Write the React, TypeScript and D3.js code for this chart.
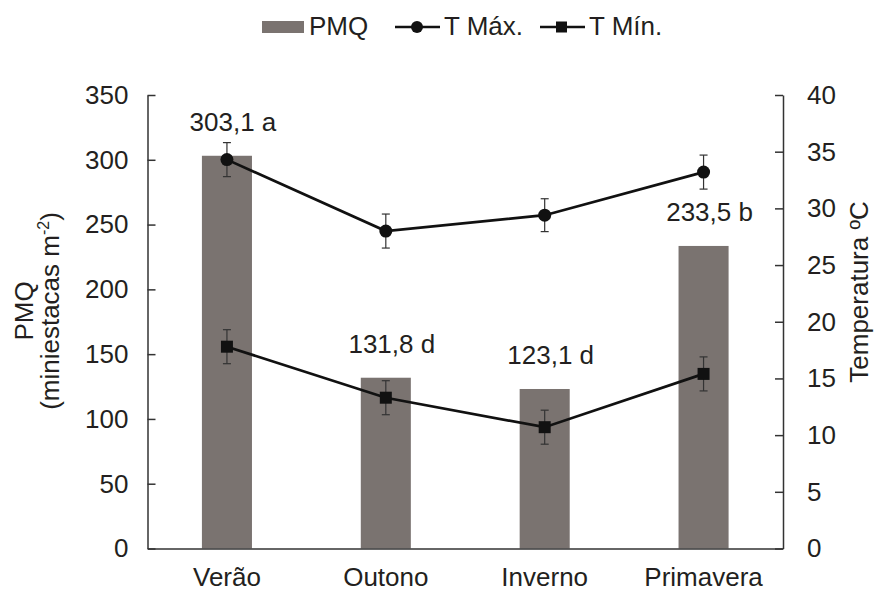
import React, { useRef, useEffect } from 'react';
import * as d3 from 'd3';

// chart data
const categories = ['Verão', 'Outono', 'Inverno', 'Primavera'];
const pmq = [303.1, 131.8, 123.1, 233.5];
const pmqLabels = ['303,1 a', '131,8 d', '123,1 d', '233,5 b'];
const tMax = [34.3, 28.0, 29.4, 33.2];
const tMaxErr = [1.5, 1.5, 1.45, 1.5];
const tMin = [17.8, 13.3, 10.7, 15.4];
const tMinErr = [1.5, 1.5, 1.5, 1.5];
const leftTicks = [0, 50, 100, 150, 200, 250, 300, 350];
const rightTicks = [0, 5, 10, 15, 20, 25, 30, 35, 40];

const FONT = '"Liberation Sans", Arial, sans-serif';
const FS = 26;
const TEXT = '#231f20';
const AXIS = '#333';
const BAR = '#7a7370';

function App() {
    const svgRef = useRef<SVGSVGElement>(null);

    useEffect(() => {
        const w = 877;
        const h = 592;
        const left = 147.5;
        const right = 783;
        const top = 95;
        const bottom = 548.5;

        const svg = d3.select(svgRef.current)
            .attr('width', w)
            .attr('height', h)
            .style('font-family', FONT);
        svg.selectAll('*').remove();

        // scales
        const x = d3.scaleBand<string>()
            .domain(categories)
            .range([left, right])
            .padding(0);
        const cx = (c: string) => (x(c) as number) + x.bandwidth() / 2;
        const barW = x.bandwidth() * 0.315;

        const yL = d3.scaleLinear().domain([0, 350]).range([bottom, top]);
        const yR = d3.scaleLinear().domain([0, 40]).range([bottom, top]);

        // bars
        svg.append('g')
            .selectAll('rect')
            .data(pmq)
            .join('rect')
            .attr('x', (d, i) => cx(categories[i]) - barW / 2)
            .attr('y', d => yL(d))
            .attr('width', barW)
            .attr('height', d => bottom - yL(d))
            .attr('fill', BAR);

        // bar labels
        svg.append('g')
            .selectAll('text')
            .data(pmq)
            .join('text')
            .attr('x', (d, i) => cx(categories[i]) + 6)
            .attr('y', d => yL(d) - 25)
            .attr('text-anchor', 'middle')
            .attr('font-size', FS)
            .attr('fill', TEXT)
            .text((d, i) => pmqLabels[i]);

        // axes
        const axisL = d3.axisLeft(yL)
            .tickValues(leftTicks)
            .tickSizeInner(-8)
            .tickSizeOuter(0)
            .tickPadding(19);
        const gL = svg.append('g')
            .attr('transform', `translate(${left}, 0)`)
            .call(axisL);

        const axisR = d3.axisRight(yR)
            .tickValues(rightTicks)
            .tickSizeInner(-8)
            .tickSizeOuter(0)
            .tickPadding(24);
        const gR = svg.append('g')
            .attr('transform', `translate(${right}, 0)`)
            .call(axisR);

        const axisB = d3.axisBottom(x)
            .tickSize(0)
            .tickPadding(19);
        const gB = svg.append('g')
            .attr('transform', `translate(0, ${bottom})`)
            .call(axisB);

        [gL, gR, gB].forEach(g => {
            g.attr('font-family', FONT).attr('font-size', FS);
            g.select('.domain').attr('stroke', AXIS).attr('stroke-width', 1.5);
            g.selectAll('.tick line').attr('stroke', AXIS).attr('stroke-width', 1.5);
            g.selectAll('.tick text').attr('fill', TEXT);
        });
        gB.selectAll('.tick text').attr('dy', '0.71em');

        // lines with error bars
        const series = [
            { vals: tMax, err: tMaxErr, shape: 'circle' },
            { vals: tMin, err: tMinErr, shape: 'square' },
        ];

        const line = d3.line<number>()
            .x((d, i) => cx(categories[i]))
            .y(d => yR(d));

        series.forEach(s => {
            const g = svg.append('g');
            g.append('path')
                .attr('d', line(s.vals))
                .attr('fill', 'none')
                .attr('stroke', '#111')
                .attr('stroke-width', 2.7);

            s.vals.forEach((v, i) => {
                const px = cx(categories[i]);
                const y1 = yR(v + s.err[i]);
                const y2 = yR(v - s.err[i]);
                g.append('line').attr('x1', px).attr('x2', px).attr('y1', y1).attr('y2', y2)
                    .attr('stroke', AXIS).attr('stroke-width', 1.2);
                [y1, y2].forEach(yy => {
                    g.append('line').attr('x1', px - 4).attr('x2', px + 4).attr('y1', yy).attr('y2', yy)
                        .attr('stroke', AXIS).attr('stroke-width', 1.2);
                });
            });

            if (s.shape === 'circle') {
                g.selectAll('circle')
                    .data(s.vals)
                    .join('circle')
                    .attr('cx', (d, i) => cx(categories[i]))
                    .attr('cy', d => yR(d))
                    .attr('r', 6.5)
                    .attr('fill', '#111');
            } else {
                g.selectAll('rect')
                    .data(s.vals)
                    .join('rect')
                    .attr('x', (d, i) => cx(categories[i]) - 6)
                    .attr('y', d => yR(d) - 6)
                    .attr('width', 12)
                    .attr('height', 12)
                    .attr('fill', '#111');
            }
        });

        // axis titles
        const titleL = svg.append('text')
            .attr('transform', 'translate(0, 311) rotate(-90)')
            .attr('text-anchor', 'middle')
            .attr('font-size', FS)
            .attr('fill', TEXT);
        titleL.append('tspan').attr('x', 0).attr('y', 33).text('PMQ');
        const sub = titleL.append('tspan').attr('x', 0).attr('y', 59);
        sub.append('tspan').text('(miniestacas m');
        sub.append('tspan').attr('font-size', 16).attr('dy', -10).text('-2');
        sub.append('tspan').attr('dy', 10).text(')');

        svg.append('text')
            .attr('transform', 'translate(868, 292) rotate(-90)')
            .attr('text-anchor', 'middle')
            .attr('font-size', FS)
            .attr('fill', TEXT)
            .text('Temperatura ºC');

        // legend
        const lg = svg.append('g').attr('font-size', FS).attr('fill', TEXT);
        lg.append('rect').attr('x', 262).attr('y', 21).attr('width', 42).attr('height', 12).attr('fill', BAR);
        lg.append('text').attr('x', 309).attr('y', 35).text('PMQ');
        lg.append('line').attr('x1', 395).attr('x2', 440).attr('y1', 27).attr('y2', 27)
            .attr('stroke', '#111').attr('stroke-width', 2.5);
        lg.append('circle').attr('cx', 417).attr('cy', 27).attr('r', 6).attr('fill', '#111');
        lg.append('text').attr('x', 444).attr('y', 35).text('T Máx.');
        lg.append('line').attr('x1', 540).attr('x2', 585).attr('y1', 27).attr('y2', 27)
            .attr('stroke', '#111').attr('stroke-width', 2.5);
        lg.append('rect').attr('x', 556).attr('y', 21.5).attr('width', 11).attr('height', 11).attr('fill', '#111');
        lg.append('text').attr('x', 589).attr('y', 35).text('T Mín.');
    }, []);

    return (
        <div>
            <svg ref={svgRef} style={{ position: 'absolute', left: 0, top: 0, display: 'block', background: '#fff' }}></svg>
        </div>
    );
}

export default App;
